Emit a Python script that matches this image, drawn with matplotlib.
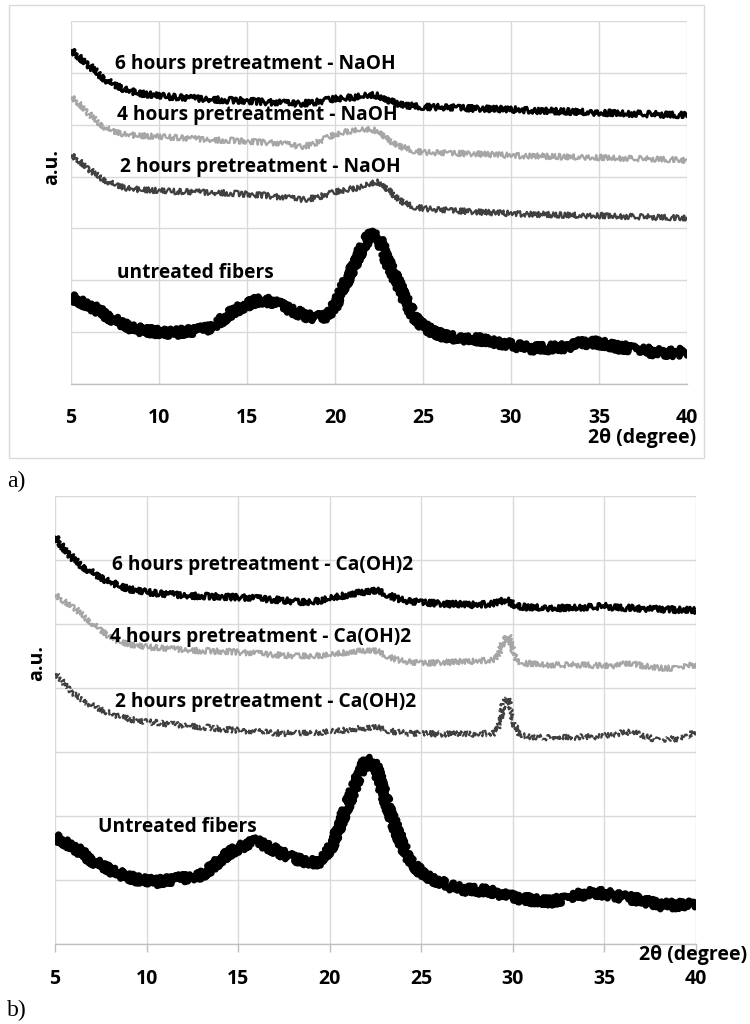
import matplotlib
matplotlib.use("Agg")
import matplotlib.pyplot as plt
from matplotlib.patches import Rectangle

# ---------------- data ----------------
two_theta = [5.0, 5.5, 6.0, 6.5, 7.0, 7.5, 8.0, 8.5, 9.0, 9.5,
             10.0, 10.5, 11.0, 11.5, 12.0, 12.5, 13.0, 13.5, 14.0, 14.5,
             15.0, 15.5, 16.0, 16.5, 17.0, 17.5, 18.0, 18.5, 19.0, 19.5,
             20.0, 20.5, 21.0, 21.5, 22.0, 22.5, 23.0, 23.5, 24.0, 24.5,
             25.0, 25.5, 26.0, 26.5, 27.0, 27.5, 28.0, 28.5, 29.0,
             29.25, 29.5, 29.75, 30.0, 30.25,
             30.5, 31.0, 31.5, 32.0, 32.5, 33.0, 33.5, 34.0, 34.5, 35.0,
             35.5, 36.0, 36.5, 37.0, 37.5, 38.0, 38.5, 39.0, 39.5, 40.0]

naoh_untreated = [1.66, 1.60, 1.52, 1.43, 1.33, 1.23, 1.14, 1.08, 1.04, 1.02,
                  1.00, 0.98, 0.99, 1.01, 1.03, 1.05, 1.10, 1.22, 1.35, 1.45,
                  1.53, 1.60, 1.62, 1.57, 1.50, 1.43, 1.36, 1.30, 1.28, 1.30,
                  1.52, 1.88, 2.25, 2.60, 2.90, 2.80, 2.35, 2.00, 1.62, 1.30,
                  1.12, 1.02, 0.95, 0.91, 0.89, 0.88, 0.87, 0.84, 0.81,
                  0.80, 0.79, 0.77, 0.75, 0.74,
                  0.72, 0.69, 0.69, 0.69, 0.70, 0.71, 0.75, 0.79, 0.80, 0.79,
                  0.75, 0.71, 0.70, 0.69, 0.66, 0.62, 0.61, 0.60, 0.61, 0.62]
naoh_2h = [4.41, 4.30, 4.15, 4.02, 3.92, 3.84, 3.79, 3.76, 3.75, 3.74,
           3.73, 3.72, 3.71, 3.71, 3.70, 3.70, 3.69, 3.69, 3.68, 3.67,
           3.66, 3.65, 3.64, 3.62, 3.60, 3.58, 3.56, 3.57, 3.60, 3.65,
           3.70, 3.74, 3.77, 3.80, 3.86, 3.90, 3.76, 3.60, 3.48, 3.42,
           3.39, 3.37, 3.36, 3.35, 3.34, 3.33, 3.32, 3.31, 3.30,
           3.30, 3.30, 3.29, 3.29, 3.29,
           3.28, 3.28, 3.27, 3.27, 3.26, 3.26, 3.26, 3.25, 3.25, 3.25,
           3.24, 3.24, 3.23, 3.23, 3.22, 3.22, 3.21, 3.21, 3.20, 3.20]
naoh_4h = [5.53, 5.40, 5.22, 5.06, 4.93, 4.86, 4.82, 4.80, 4.79, 4.78,
           4.77, 4.76, 4.75, 4.74, 4.73, 4.72, 4.71, 4.70, 4.70, 4.69,
           4.68, 4.67, 4.66, 4.65, 4.63, 4.61, 4.58, 4.60, 4.66, 4.74,
           4.81, 4.86, 4.89, 4.90, 4.91, 4.88, 4.72, 4.62, 4.55, 4.50,
           4.47, 4.46, 4.46, 4.45, 4.45, 4.44, 4.44, 4.43, 4.42,
           4.42, 4.42, 4.41, 4.41, 4.41,
           4.40, 4.40, 4.40, 4.39, 4.39, 4.38, 4.38, 4.38, 4.37, 4.37,
           4.36, 4.36, 4.35, 4.35, 4.34, 4.34, 4.33, 4.33, 4.32, 4.31]
naoh_6h = [6.43, 6.30, 6.15, 6.00, 5.86, 5.76, 5.69, 5.64, 5.60, 5.58,
           5.56, 5.54, 5.53, 5.52, 5.51, 5.50, 5.49, 5.48, 5.47, 5.47,
           5.46, 5.45, 5.44, 5.43, 5.42, 5.41, 5.41, 5.42, 5.44, 5.47,
           5.50, 5.52, 5.53, 5.55, 5.57, 5.56, 5.48, 5.42, 5.38, 5.36,
           5.35, 5.34, 5.34, 5.33, 5.33, 5.32, 5.31, 5.31, 5.30,
           5.30, 5.30, 5.29, 5.29, 5.29,
           5.28, 5.28, 5.27, 5.27, 5.26, 5.26, 5.25, 5.25, 5.24, 5.23,
           5.23, 5.22, 5.22, 5.21, 5.21, 5.20, 5.20, 5.19, 5.19, 5.18]

ca_untreated = [1.66, 1.60, 1.52, 1.42, 1.31, 1.23, 1.16, 1.10, 1.05, 1.01,
                0.99, 0.97, 0.99, 1.01, 1.03, 1.05, 1.08, 1.18, 1.31, 1.42,
                1.50, 1.56, 1.60, 1.54, 1.47, 1.40, 1.34, 1.30, 1.28, 1.28,
                1.47, 1.83, 2.20, 2.56, 2.88, 2.78, 2.30, 1.89, 1.52, 1.27,
                1.11, 1.03, 0.97, 0.91, 0.87, 0.85, 0.84, 0.83, 0.81,
                0.79, 0.77, 0.75, 0.73, 0.72,
                0.71, 0.69, 0.67, 0.66, 0.69, 0.73, 0.76, 0.79, 0.80, 0.79,
                0.76, 0.73, 0.71, 0.69, 0.65, 0.61, 0.61, 0.61, 0.61, 0.61]
ca_2h = [4.23, 4.08, 3.92, 3.81, 3.73, 3.66, 3.61, 3.56, 3.52, 3.49,
         3.47, 3.46, 3.44, 3.43, 3.42, 3.41, 3.39, 3.38, 3.36, 3.35,
         3.34, 3.33, 3.32, 3.31, 3.30, 3.29, 3.29, 3.29, 3.30, 3.31,
         3.32, 3.33, 3.35, 3.37, 3.38, 3.39, 3.35, 3.32, 3.30, 3.29,
         3.29, 3.29, 3.28, 3.28, 3.28, 3.28, 3.28, 3.29, 3.30,
         3.42, 3.78, 3.84, 3.50, 3.30,
         3.26, 3.24, 3.23, 3.22, 3.22, 3.23, 3.23, 3.24, 3.24, 3.25,
         3.27, 3.30, 3.31, 3.27, 3.22, 3.19, 3.20, 3.21, 3.25, 3.33]
ca_4h = [5.45, 5.36, 5.27, 5.14, 5.02, 4.90, 4.80, 4.73, 4.69, 4.66,
         4.64, 4.63, 4.62, 4.61, 4.60, 4.59, 4.58, 4.58, 4.57, 4.57,
         4.56, 4.55, 4.54, 4.53, 4.52, 4.51, 4.50, 4.50, 4.50, 4.51,
         4.52, 4.54, 4.56, 4.58, 4.59, 4.59, 4.52, 4.46, 4.42, 4.40,
         4.39, 4.39, 4.40, 4.40, 4.41, 4.41, 4.42, 4.43, 4.45,
         4.55, 4.74, 4.83, 4.60, 4.42,
         4.39, 4.38, 4.37, 4.36, 4.36, 4.36, 4.36, 4.36, 4.35, 4.35,
         4.35, 4.37, 4.39, 4.35, 4.33, 4.31, 4.31, 4.32, 4.35, 4.36]
ca_6h = [6.36, 6.18, 6.02, 5.90, 5.81, 5.72, 5.66, 5.60, 5.55, 5.52,
         5.50, 5.48, 5.47, 5.46, 5.45, 5.44, 5.44, 5.43, 5.43, 5.42,
         5.42, 5.41, 5.40, 5.39, 5.38, 5.37, 5.35, 5.34, 5.35, 5.37,
         5.40, 5.43, 5.46, 5.49, 5.51, 5.53, 5.48, 5.42, 5.37, 5.35,
         5.34, 5.33, 5.32, 5.31, 5.31, 5.30, 5.30, 5.31, 5.33,
         5.35, 5.37, 5.36, 5.31, 5.28,
         5.27, 5.26, 5.26, 5.25, 5.25, 5.25, 5.26, 5.26, 5.27, 5.28,
         5.26, 5.25, 5.25, 5.24, 5.24, 5.23, 5.23, 5.22, 5.22, 5.21]

x_ticks = [5, 10, 15, 20, 25, 30, 35, 40]
y_grid = [0, 1, 2, 3, 4, 5, 6, 7]

naoh_labels = ["6 hours pretreatment - NaOH", "4 hours pretreatment - NaOH",
               "2 hours pretreatment - NaOH", "untreated fibers"]
ca_labels = ["6 hours pretreatment - Ca(OH)2", "4 hours pretreatment - Ca(OH)2",
             "2 hours pretreatment - Ca(OH)2", "Untreated fibers"]

# ---------------- style ----------------
FONT = "Open Sans"
WEIGHT = "bold"
GRID = "#d9d9d9"
AXIS = "#bfbfbf"
C_BLACK = "#000000"
C_LIGHT = "#a6a6a6"
C_DARK = "#404040"

fig = plt.figure(figsize=(7.5, 10.24), dpi=100)
W, H = 750.0, 1024.0

def px_axes(l, t, r, b):
    return fig.add_axes([l / W, 1 - b / H, (r - l) / W, (b - t) / H])

# outer frame of panel a)
fig.patches.append(Rectangle((9 / W, 1 - 458 / H), 695 / W, 453 / H,
                             transform=fig.transFigure, fill=False,
                             edgecolor=GRID, linewidth=1.0))

ax1 = px_axes(71, 21, 687, 384)
ax2 = px_axes(55, 496, 696, 944)

def style(ax, ticks_out):
    ax.set_xlim(5, 40)
    ax.set_ylim(0, 7)
    ax.set_xticks(x_ticks)
    ax.set_yticks(y_grid)
    ax.set_yticklabels([])
    ax.grid(True, color=GRID, linewidth=1.0)
    ax.set_axisbelow(True)
    for s in ["top", "right", "left"]:
        ax.spines[s].set_visible(False)
    ax.spines["bottom"].set_color(AXIS)
    ax.spines["bottom"].set_linewidth(1.0)
    ax.tick_params(axis="y", length=0)
    if ticks_out:
        ax.tick_params(axis="x", length=6, width=1.0, color=AXIS, pad=12,
                       direction="out")
    else:
        ax.tick_params(axis="x", length=0, pad=17)
    for lab in ax.get_xticklabels():
        lab.set_fontfamily(FONT)
        lab.set_fontweight(WEIGHT)
        lab.set_fontsize(14)

style(ax1, False)
style(ax2, True)

def trace(ax, y, color, lw, scale, ls="-"):
    line, = ax.plot(two_theta, y, color=color, linewidth=lw, linestyle=ls,
                    solid_joinstyle="round", solid_capstyle="round")
    line.set_sketch_params(scale=scale, length=0.8, randomness=4)
    return line

trace(ax1, naoh_untreated, C_BLACK, 4.8, 4.2)
trace(ax1, naoh_2h, C_DARK, 1.6, 2.8)
trace(ax1, naoh_4h, C_LIGHT, 1.6, 2.8)
trace(ax1, naoh_6h, C_BLACK, 2.2, 3.0)

trace(ax2, ca_untreated, C_BLACK, 4.8, 4.2)
trace(ax2, ca_2h, C_DARK, 1.6, 2.8, ls=(0, (3, 1)))
trace(ax2, ca_4h, C_LIGHT, 1.6, 2.8)
trace(ax2, ca_6h, C_BLACK, 2.2, 3.0)

tkw = dict(fontfamily=FONT, fontweight=WEIGHT, fontsize=13.8, va="center", ha="left")
ax1.text(7.5, 6.18, naoh_labels[0], **tkw)
ax1.text(7.6, 5.18, naoh_labels[1], **tkw)
ax1.text(7.8, 4.18, naoh_labels[2], **tkw)
ax1.text(7.6, 2.14, naoh_labels[3], **tkw)

ax2.text(8.1, 5.92, ca_labels[0], **tkw)
ax2.text(8.0, 4.80, ca_labels[1], **tkw)
ax2.text(8.3, 3.78, ca_labels[2], **tkw)
ax2.text(7.35, 1.83, ca_labels[3], **tkw)

lkw = dict(fontfamily=FONT, fontweight=WEIGHT, fontsize=14)
fig.text(696 / W, 1 - 438 / H, "2θ (degree)", ha="right", va="center", **lkw)
fig.text(747 / W, 1 - 955 / H, "2θ (degree)", ha="right", va="center", **lkw)
fig.text(52 / W, 1 - 167 / H, "a.u.", rotation=90, ha="center", va="center", **lkw)
fig.text(37 / W, 1 - 663 / H, "a.u.", rotation=90, ha="center", va="center", **lkw)

skw = dict(fontfamily="Liberation Serif", fontsize=17, ha="left", va="center")
fig.text(7 / W, 1 - 481 / H, "a)", **skw)
fig.text(7 / W, 1 - 1010 / H, "b)", **skw)

fig.savefig("out.png", dpi=100)
